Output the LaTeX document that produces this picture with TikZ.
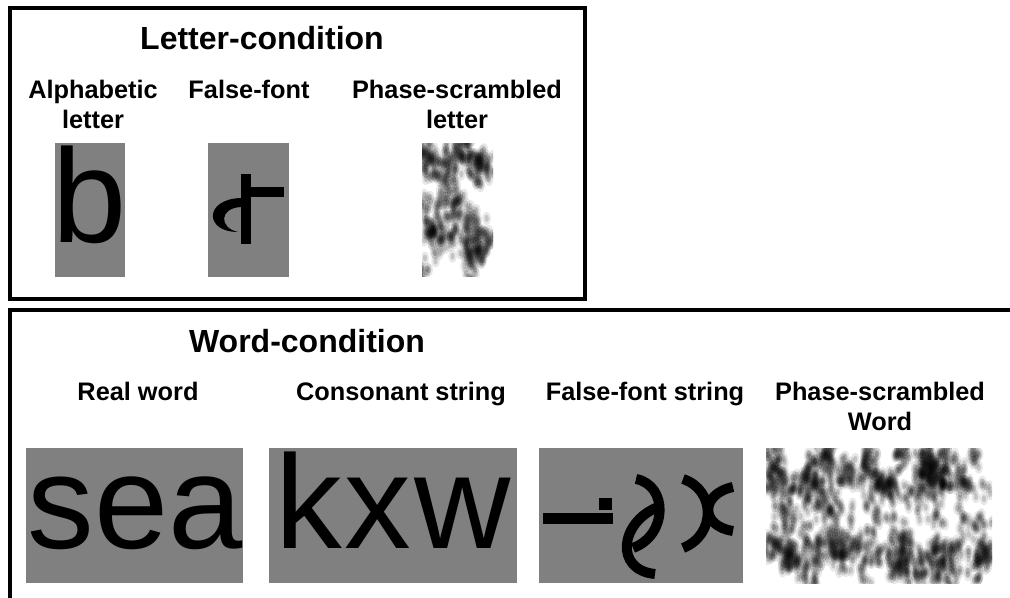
\documentclass[tikz,border=0pt]{standalone}
\usepackage{fontspec}
\setmainfont{Liberation Sans}
\definecolor{stimgray}{RGB}{128,128,128}
\newcommand\myblob[2]{%
  \fill[black,opacity=.09] (#1,#2) ellipse [x radius=4.2, y radius=6.5];
  \fill[black,opacity=.15] (#1,#2) ellipse [x radius=2.2, y radius=3.6];}
\newcommand\mycluster[5]{% cx cy count spreadx spready
  \foreach \j in {1,...,#3}{
    \pgfmathsetmacro\px{#1+#4*rand}
    \pgfmathsetmacro\py{#2+#5*rand}
    \myblob{\px}{\py}
  }}
\begin{document}
\begin{tikzpicture}[x=0.75pt,y=-0.75pt,
  frame/.style={draw=black, line width=2.3pt},
  title/.style={font=\bfseries\fontsize{24}{28}\selectfont, anchor=base, inner sep=0},
  lab/.style={font=\bfseries\fontsize{19}{23}\selectfont, anchor=base, inner sep=0, align=center},
  big/.style={font=\fontsize{100}{100}\selectfont, anchor=base, inner sep=0},
  stim/.style={fill=stimgray},
  ffstroke/.style={line width=7.5pt, draw=black, line cap=butt}]
\useasboundingbox (0,0) rectangle (1010,598);
\clip (0,0) rectangle (1010,598);

% ---------------- Letter condition ----------------
\draw[frame] (10,8) rectangle (585,299);
\node[title] (lettitle) at (262,50) {Letter-condition};
\node[lab] (lab1) at (93,129) {Alphabetic\\letter};
\node[lab] (lab2) at (249,99) {False-font};
\node[lab] (lab3) at (457,129) {Phase-scrambled\\letter};

\fill[stim] (55,143) rectangle (125,277);
\node[big] (bletter) at (90,243) {b};

\fill[stim] (208,143) rectangle (289,277);
\fill[black] (241,174) rectangle (251,244);
\fill[black] (241,187) rectangle (284,197);
\fill[black] (241,198) .. controls (204,199) and (204,232) .. (238,232)
  .. controls (219,228) and (219,208) .. (241,207) -- cycle;

\begin{scope}
  \clip (422,144) rectangle (493,277);
  \pgfmathsetseed{11}
  \foreach \k in {1,...,40}{
    \pgfmathsetmacro\cx{422+71*rnd}
    \pgfmathsetmacro\cy{144+133*rnd}
    \mycluster{\cx}{\cy}{13}{7}{12}
  }
  \mycluster{429}{232}{16}{5}{8}
  \mycluster{482}{162}{10}{5}{6}
  \mycluster{470}{225}{10}{8}{10}
\end{scope}

% ---------------- Word condition ----------------
\draw[frame] (10,630) -- (10,310) -- (1030,310);
\node[title] (wordtitle) at (307,353) {Word-condition};
\node[lab] (wlab1) at (138,401) {Real word};
\node[lab] (wlab2) at (401,401) {Consonant string};
\node[lab] (wlab3) at (645,401) {False-font string};
\node[lab] (wlab4) at (880,431) {Phase-scrambled\\Word};

\fill[stim] (26,448) rectangle (243,583);
\node[big] (sea) at (135,548) {sea};

\fill[stim] (269,448) rectangle (517,583);
\node[big] (kxw) at (393,548) {k\kern2pt x\kern2pt w};

\fill[stim] (539,448) rectangle (743,583);
\fill[black] (543,513) rectangle (613,524);
\fill[black] (599,498) rectangle (612,510);
\draw[ffstroke] (636,479) .. controls (668,485) and (668,535) .. (633,548);
\draw[ffstroke] (658,507) .. controls (620,522) and (614,570) .. (655,574);
\draw[ffstroke] (683,479) .. controls (716,490) and (716,535) .. (683,548);
\draw[ffstroke] (733,487) .. controls (700,494) and (700,526) .. (733,531);

\begin{scope}
  \clip (766,448) rectangle (992,583);
  \pgfmathsetseed{5}
  \foreach \k in {1,...,44}{
    \pgfmathsetmacro\cx{766+226*rnd}
    \pgfmathsetmacro\cy{452+34*rnd}
    \mycluster{\cx}{\cy}{14}{7}{12}
  }
  \foreach \k in {1,...,44}{
    \pgfmathsetmacro\cx{766+226*rnd}
    \pgfmathsetmacro\cy{542+38*rnd}
    \mycluster{\cx}{\cy}{14}{7}{12}
  }
  \foreach \k in {1,...,70}{
    \pgfmathsetmacro\cx{766+226*rnd}
    \pgfmathsetmacro\cy{480+70*rnd}
    \mycluster{\cx}{\cy}{6}{7}{12}
  }
\end{scope}
\end{tikzpicture}
\end{document}
